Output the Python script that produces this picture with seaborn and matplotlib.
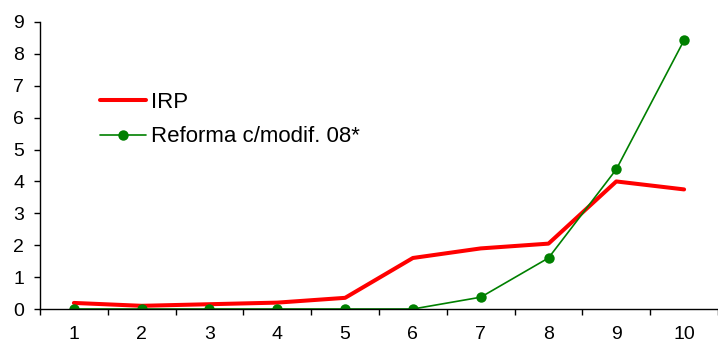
import matplotlib
matplotlib.use("Agg")
import matplotlib.pyplot as plt
import seaborn as sns
import pandas as pd
import numpy as np

categories = [1, 2, 3, 4, 5, 6, 7, 8, 9, 10]
irp = [0.19, 0.10, 0.15, 0.20, 0.35, 1.60, 1.90, 2.05, 4.00, 3.75]
reforma = [0.0, 0.0, 0.0, 0.0, 0.0, 0.0, 0.37, 1.60, 4.38, 8.43]
labels = ["IRP", "Reforma c/modif. 08*"]

sns.set_theme(style="white")
plt.rcParams['font.family'] = ['Liberation Sans', 'DejaVu Sans']
plt.rcParams['text.color'] = 'black'

df = pd.DataFrame({"x": categories, "IRP": irp, "Reforma": reforma})

fig = plt.figure(figsize=(7.18, 3.47), dpi=100)
ax = fig.add_axes([40/718, 1 - 309/347, 678/718, 287/347])

sns.lineplot(data=df, x="x", y="IRP", ax=ax, color="#ff0000", linewidth=2.9, label=labels[0])
sns.lineplot(data=df, x="x", y="Reforma", ax=ax, color="#008000", linewidth=1.2,
             marker="o", markersize=7.5, markeredgewidth=0, label=labels[1])

ax.set_xlim(0.5, 10.5)
ax.set_ylim(0, 9)
ax.set_xlabel("")
ax.set_ylabel("")
ax.set_xticks(categories)
ax.set_xticklabels([str(c) for c in categories])
ax.set_xticks(np.arange(0.5, 10.6, 1.0), minor=True)
ax.tick_params(axis="x", which="major", length=0, pad=12, labelsize=14, colors="black")
ax.tick_params(axis="x", which="minor", length=4.3, width=1, color="black", direction="out", bottom=True)
ax.set_yticks(range(0, 10))
ax.tick_params(axis="y", which="major", length=4.3, width=1, color="black", direction="out",
               left=True, labelsize=14, pad=7, colors="black")

for s in ["top", "right"]:
    ax.spines[s].set_visible(False)
for s in ["left", "bottom"]:
    ax.spines[s].set_color("black")
    ax.spines[s].set_linewidth(1)

leg = ax.legend(loc="upper left", bbox_to_anchor=(100/718, 1 - 92/347), bbox_transform=fig.transFigure,
                frameon=False, borderpad=0, borderaxespad=0,
                fontsize=16, handlelength=2.05, handletextpad=0.25, labelspacing=0.6)
for t in leg.get_texts():
    t.set_color("black")

fig.savefig("out.png", dpi=100)
